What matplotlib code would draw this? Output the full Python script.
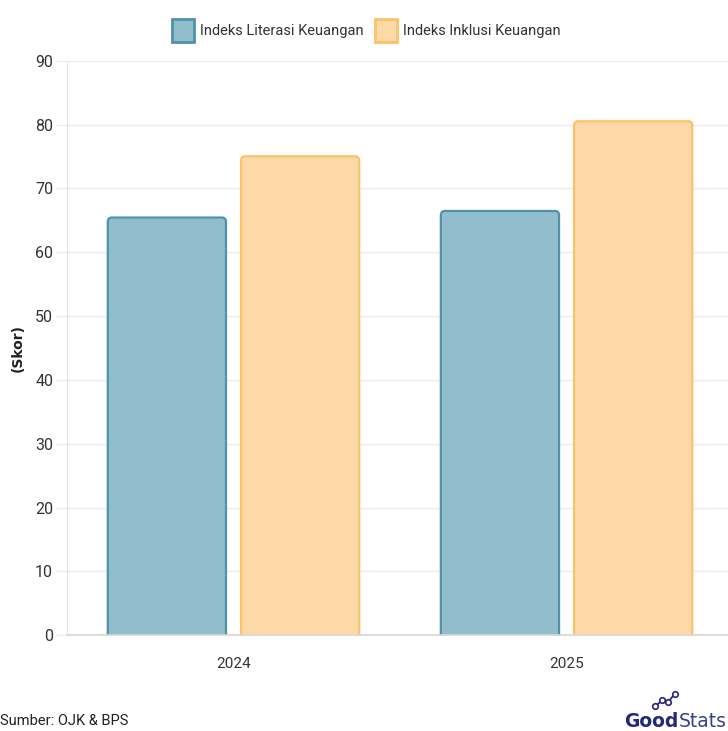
import matplotlib
matplotlib.use("Agg")
import matplotlib.pyplot as plt
from matplotlib.patches import FancyBboxPatch
import numpy as np

plt.rcParams['font.family'] = ['Roboto', 'DejaVu Sans']

categories = ["2024", "2025"]
series_names = ["Indeks Literasi Keuangan", "Indeks Inklusi Keuangan"]
literasi = [65.43, 66.46]
inklusi = [75.02, 80.51]
yticks = [0, 10, 20, 30, 40, 50, 60, 70, 80, 90]

fills = ["#92bdcd", "#fdd9a8"]
edges = ["#4f93ab", "#fcc26a"]

fig = plt.figure(figsize=(7.28, 7.31), dpi=100)
ax = fig.add_axes([0.092, 0.131, 0.915, 0.786])

x = np.arange(len(categories))
w = 0.355
offs = [-0.2, 0.2]
for vals, off, fc, ec, name in zip([literasi, inklusi], offs, fills, edges, series_names):
    bars = ax.bar(x + off, vals, width=w, color=fc, edgecolor=ec, linewidth=1.6, label=name, zorder=3)
    for b in bars:
        b.set_visible(False)
        bx, by, bw, bh = b.get_x(), b.get_y(), b.get_width(), b.get_height()
        p = FancyBboxPatch((bx, by - 2), bw, bh + 2,
                           boxstyle="round,pad=0,rounding_size=0.012",
                           mutation_aspect=60,
                           facecolor=fc, edgecolor=ec, linewidth=1.6, zorder=3)
        ax.add_patch(p)

ax.set_xlim(-0.5, 1.5)
ax.set_ylim(0, 90)
ax.set_yticks(yticks)
ax.set_yticklabels([str(t) for t in yticks])
ax.set_xticks(x)
ax.set_xticklabels(categories)
ax.grid(axis='y', color='#ececec', linewidth=1, zorder=0)
ax.set_axisbelow(True)
for s in ['top', 'right']:
    ax.spines[s].set_visible(False)
ax.spines['left'].set_color('#e6e6e6')
ax.spines['bottom'].set_color('#d6d6d6')
ax.spines['bottom'].set_linewidth(1.2)
ax.spines['bottom'].set_zorder(4)
ax.tick_params(axis='y', length=8, color='#ececec', labelsize=11.5, labelcolor='#333333', pad=2)
ax.tick_params(axis='x', length=0, labelsize=11, labelcolor='#333333', pad=16)

fig.text(18 / 728, 1 - 348 / 731, "(Skor)", rotation=90, fontsize=10, fontweight='bold',
         color='#222222', family=['DejaVu Sans'], ha='center', va='center')

handles = [FancyBboxPatch((0, 0), 1, 1, boxstyle="round,pad=0,rounding_size=0.2",
                          facecolor=fc, edgecolor=ec, linewidth=2) for fc, ec in zip(fills, edges)]
fig.legend(handles, series_names, loc='center', bbox_to_anchor=(0.503, 0.958), ncol=2,
           frameon=False, fontsize=10.5, handlelength=1.5, handleheight=2.0,
           handletextpad=0.4, columnspacing=0.8, labelcolor='#333333')

fig.text(0.0, 0.004, "Sumber: OJK & BPS", fontsize=10.5, color='#222222', ha='left', va='bottom')
t1 = fig.text(624 / 728, 0.0, "Good", fontsize=13.5, fontweight='bold', color='#23297a',
              ha='left', va='bottom', family=['DejaVu Sans'])
fig.canvas.draw()
bb = t1.get_window_extent()
fig.text(bb.x1 / fig.bbox.width, 0.0, "Stats", fontsize=13.5, color='#3a3f8a',
         ha='left', va='bottom', family=['DejaVu Sans'])
# small logo line graph
lx = [0.900, 0.910, 0.918, 0.927]
ly = [0.034, 0.042, 0.040, 0.051]
fig.add_artist(plt.Line2D(lx, ly, color='#23297a', lw=1.3, transform=fig.transFigure))
fig.add_artist(plt.Line2D(lx, ly, color='#23297a', lw=0, marker='o', markersize=4,
                          markerfacecolor='white', markeredgewidth=1.2, transform=fig.transFigure))

fig.savefig("out.png", dpi=100)
